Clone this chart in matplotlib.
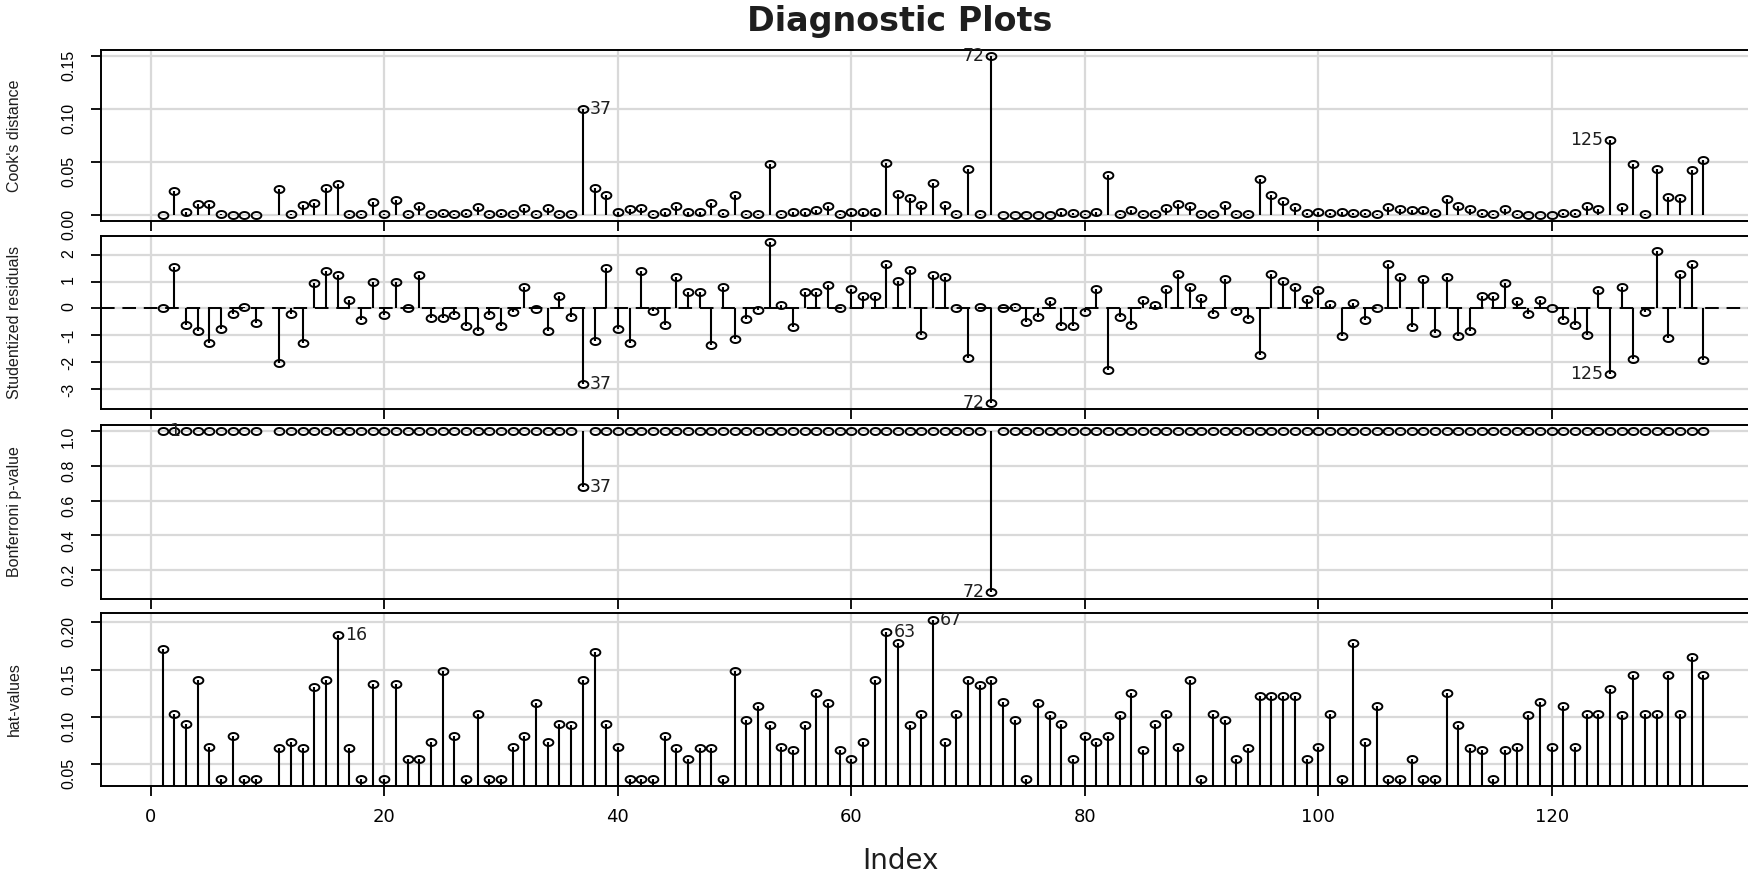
import numpy as np
import matplotlib
matplotlib.use("Agg")
import matplotlib.pyplot as plt
from matplotlib.path import Path

# ---------------- data ----------------
obs_index = list(range(1, 10)) + list(range(11, 134))

cooks_d = [0.000, 0.022, 0.003, 0.010, 0.010, 0.001, 0.000, 0.000, 0.000,
           0.024, 0.001, 0.009, 0.011, 0.025, 0.029, 0.001, 0.001, 0.012, 0.001,
           0.014, 0.001, 0.008, 0.001, 0.002, 0.001, 0.002, 0.007, 0.001, 0.002,
           0.001, 0.006, 0.001, 0.006, 0.001, 0.001, 0.100, 0.025, 0.019, 0.003,
           0.005, 0.006, 0.001, 0.003, 0.008, 0.003, 0.003, 0.011, 0.002, 0.019,
           0.001, 0.001, 0.048, 0.001, 0.003, 0.003, 0.004, 0.008, 0.001, 0.003,
           0.003, 0.003, 0.049, 0.020, 0.016, 0.009, 0.030, 0.009, 0.001, 0.043,
           0.001, 0.150, 0.000, 0.000, 0.000, 0.000, 0.000, 0.003, 0.002, 0.001,
           0.003, 0.038, 0.001, 0.004, 0.001, 0.001, 0.006, 0.010, 0.008, 0.001,
           0.001, 0.009, 0.001, 0.001, 0.034, 0.019, 0.013, 0.007, 0.002, 0.003,
           0.002, 0.003, 0.002, 0.002, 0.001, 0.007, 0.005, 0.004, 0.004, 0.002,
           0.015, 0.008, 0.005, 0.002, 0.001, 0.005, 0.001, 0.000, 0.000, 0.000,
           0.002, 0.002, 0.008, 0.005, 0.071, 0.007, 0.048, 0.001, 0.043, 0.017,
           0.016, 0.042, 0.052]

stud_resid = [0.02, 1.55, -0.62, -0.86, -1.29, -0.76, -0.20, 0.06, -0.56,
              -2.04, -0.20, -1.29, 0.93, 1.38, 1.24, 0.30, -0.45, 0.99, -0.25,
              0.99, 0.00, 1.24, -0.36, -0.36, -0.26, -0.66, -0.86, -0.26, -0.66,
              -0.14, 0.81, -0.04, -0.86, 0.46, -0.31, -2.81, -1.22, 1.49, -0.76,
              -1.29, 1.39, -0.10, -0.60, 1.18, 0.61, 0.61, -1.38, 0.81, -1.13,
              -0.39, -0.06, 2.46, 0.11, -0.70, 0.61, 0.61, 0.88, 0.00, 0.71,
              0.46, 0.46, 1.64, 1.03, 1.44, -0.98, 1.24, 1.18, 0.00, -1.84,
              0.05, -3.51, 0.00, 0.05, -0.51, -0.31, 0.28, -0.66, -0.66, -0.12,
              0.71, -2.29, -0.31, -0.61, 0.31, 0.11, 0.71, 1.29, 0.78, 0.40,
              -0.22, 1.09, -0.10, -0.39, -1.72, 1.28, 1.03, 0.78, 0.36, 0.68,
              0.15, -1.01, 0.19, -0.45, 0.00, 1.65, 1.18, -0.70, 1.09, -0.91,
              1.18, -1.01, -0.85, 0.46, 0.46, 0.93, 0.28, -0.22, 0.31, 0.00,
              -0.45, -0.60, -0.98, 0.68, -2.44, 0.81, -1.88, -0.14, 2.15, -1.10,
              1.28, 1.65, -1.94]

bonf_p = [1.0, 1.0, 1.0, 1.0, 1.0, 1.0, 1.0, 1.0, 1.0,
          1.0, 1.0, 1.0, 1.0, 1.0, 1.0, 1.0, 1.0, 1.0, 1.0,
          1.0, 1.0, 1.0, 1.0, 1.0, 1.0, 1.0, 1.0, 1.0, 1.0,
          1.0, 1.0, 1.0, 1.0, 1.0, 1.0, 0.68, 1.0, 1.0, 1.0,
          1.0, 1.0, 1.0, 1.0, 1.0, 1.0, 1.0, 1.0, 1.0, 1.0,
          1.0, 1.0, 1.0, 1.0, 1.0, 1.0, 1.0, 1.0, 1.0, 1.0,
          1.0, 1.0, 1.0, 1.0, 1.0, 1.0, 1.0, 1.0, 1.0, 1.0,
          1.0, 0.075, 1.0, 1.0, 1.0, 1.0, 1.0, 1.0, 1.0, 1.0,
          1.0, 1.0, 1.0, 1.0, 1.0, 1.0, 1.0, 1.0, 1.0, 1.0,
          1.0, 1.0, 1.0, 1.0, 1.0, 1.0, 1.0, 1.0, 1.0, 1.0,
          1.0, 1.0, 1.0, 1.0, 1.0, 1.0, 1.0, 1.0, 1.0, 1.0,
          1.0, 1.0, 1.0, 1.0, 1.0, 1.0, 1.0, 1.0, 1.0, 1.0,
          1.0, 1.0, 1.0, 1.0, 1.0, 1.0, 1.0, 1.0, 1.0, 1.0,
          1.0, 1.0, 1.0]

hat_values = [0.172, 0.103, 0.093, 0.139, 0.068, 0.034, 0.080, 0.034, 0.034,
              0.067, 0.074, 0.067, 0.132, 0.139, 0.187, 0.067, 0.034, 0.135, 0.034,
              0.135, 0.056, 0.056, 0.074, 0.149, 0.080, 0.034, 0.103, 0.034, 0.034,
              0.068, 0.080, 0.115, 0.074, 0.093, 0.091, 0.139, 0.169, 0.093, 0.068,
              0.034, 0.034, 0.034, 0.080, 0.067, 0.056, 0.067, 0.067, 0.034, 0.149,
              0.097, 0.112, 0.091, 0.068, 0.065, 0.091, 0.125, 0.115, 0.065, 0.056,
              0.074, 0.139, 0.190, 0.178, 0.091, 0.103, 0.203, 0.074, 0.103, 0.139,
              0.134, 0.139, 0.116, 0.097, 0.034, 0.115, 0.102, 0.093, 0.056, 0.080,
              0.074, 0.080, 0.102, 0.125, 0.065, 0.093, 0.103, 0.068, 0.139, 0.034,
              0.103, 0.097, 0.056, 0.067, 0.122, 0.122, 0.122, 0.122, 0.056, 0.068,
              0.103, 0.034, 0.178, 0.074, 0.112, 0.034, 0.034, 0.056, 0.034, 0.034,
              0.125, 0.091, 0.067, 0.065, 0.034, 0.065, 0.068, 0.102, 0.116, 0.068,
              0.112, 0.068, 0.103, 0.103, 0.130, 0.102, 0.144, 0.103, 0.103, 0.144,
              0.103, 0.163, 0.144]

panel_titles = ["Cook's distance", "Studentized residuals", "Bonferroni p-value", "hat-values"]
x_ticks = [0, 20, 40, 60, 80, 100, 120]
cook_ticks = [0.00, 0.05, 0.10, 0.15]
cook_ticklabels = ["0.00", "0.05", "0.10", "0.15"]
stud_ticks = [-3, -2, -1, 0, 1, 2]
stud_ticklabels = ["-3", "-2", "-1", "0", "1", "2"]
bonf_ticks = [0.2, 0.4, 0.6, 0.8, 1.0]
bonf_ticklabels = ["0.2", "0.4", "0.6", "0.8", "1.0"]
hat_ticks = [0.05, 0.10, 0.15, 0.20]
hat_ticklabels = ["0.05", "0.10", "0.15", "0.20"]

# labelled points: (index, side)
cook_labels = [(37, "right"), (72, "left"), (125, "left")]
stud_labels = [(37, "right"), (72, "left"), (125, "left")]
bonf_labels = [(37, "right"), (72, "left"), (1, "right")]
hat_labels = [(16, "right"), (63, "right"), (67, "right")]

# ---------------- style ----------------
W, H = 1749, 876
fig = plt.figure(figsize=(W / 100, H / 100), dpi=100)

theta = np.linspace(0, 2 * np.pi, 60)
ell_marker = Path(np.column_stack([np.cos(theta), 0.72 * np.sin(theta)]), closed=True)

grid_col = "#d9d9d9"
txt_col = "#1e1e1e"
rot_font = ["Liberation Sans", "DejaVu Sans"]
hor_font = ["DejaVu Sans"]

xlim = (-4.28, 138.28)
ax_left = 101 / W
ax_width = (1765 - 101) / W
panel_px = [(50, 221), (236, 409), (425, 599), (613, 786)]


def make_ax(top, bottom):
    ax = fig.add_axes([ax_left, 1 - bottom / H, ax_width, (bottom - top) / H])
    ax.set_xlim(*xlim)
    for s in ["left", "top", "bottom"]:
        ax.spines[s].set_linewidth(1.4)
        ax.spines[s].set_color("black")
    ax.spines["right"].set_visible(False)
    ax.set_xticks(x_ticks)
    ax.tick_params(axis="both", direction="out", length=7, width=1.3, color="black")
    ax.tick_params(axis="x", labelbottom=False)
    ax.tick_params(axis="y", labelrotation=90, pad=11, labelsize=11.5)
    ax.grid(True, color=grid_col, linewidth=1.6, zorder=0)
    ax.set_axisbelow(True)
    return ax


def draw_points(ax, x, y):
    ax.plot(x, y, linestyle="none", marker=ell_marker, markersize=7,
            markerfacecolor="none", markeredgecolor="black", markeredgewidth=1.4,
            zorder=4, clip_on=False)


def add_labels(ax, x, y, labels, dy=0):
    for idx, side in labels:
        k = x.index(idx)
        off = 5 if side == "right" else -5
        ax.annotate(str(idx), (x[k], y[k]), xytext=(off, dy), textcoords="offset points",
                    ha="left" if side == "right" else "right", va="center",
                    fontsize=12.5, color=txt_col, family=hor_font, zorder=6,
                    annotation_clip=False)


x = obs_index
stem_lw = 1.5

# Cook's distance
ax1 = make_ax(*panel_px[0])
ax1.vlines(x, 0, cooks_d, color="black", linewidth=stem_lw, zorder=3)
draw_points(ax1, x, cooks_d)
ax1.set_ylim(-0.006, 0.156)
ax1.set_yticks(cook_ticks)
ax1.set_yticklabels(cook_ticklabels, family=rot_font)
add_labels(ax1, x, cooks_d, cook_labels)

# Studentized residuals
ax2 = make_ax(*panel_px[1])
ax2.axhline(0, color="black", linewidth=1.4, linestyle=(0, (7, 4)), zorder=2)
ax2.vlines(x, 0, stud_resid, color="black", linewidth=stem_lw, zorder=3)
draw_points(ax2, x, stud_resid)
ax2.set_ylim(-3.75, 2.70)
ax2.set_yticks(stud_ticks)
ax2.set_yticklabels(stud_ticklabels, family=rot_font)
add_labels(ax2, x, stud_resid, stud_labels)

# Bonferroni p-value
ax3 = make_ax(*panel_px[2])
ax3.vlines(x, 1.0, bonf_p, color="black", linewidth=stem_lw, zorder=3)
draw_points(ax3, x, bonf_p)
ax3.set_ylim(0.033, 1.037)
ax3.set_yticks(bonf_ticks)
ax3.set_yticklabels(bonf_ticklabels, family=rot_font)
add_labels(ax3, x, bonf_p, bonf_labels)

# hat-values
ax4 = make_ax(*panel_px[3])
ax4.vlines(x, 0, hat_values, color="black", linewidth=stem_lw, zorder=3)
draw_points(ax4, x, hat_values)
ax4.set_ylim(0.027, 0.210)
ax4.set_yticks(hat_ticks)
ax4.set_yticklabels(hat_ticklabels, family=rot_font)
add_labels(ax4, x, hat_values, hat_labels)
ax4.tick_params(axis="x", labelbottom=True, labelsize=13, pad=9)
for lab in ax4.get_xticklabels():
    lab.set_family(hor_font)

for ax, t in zip([ax1, ax2, ax3, ax4], panel_titles):
    ax.set_ylabel(t, fontsize=11.5, family=rot_font, color=txt_col)
    ax.yaxis.set_label_coords((22 - 101) / (1765 - 101), 0.5)

fig.text(900 / W, 1 - 21 / H, "Diagnostic Plots", ha="center", va="center",
         fontsize=24, fontweight="bold", family=hor_font, color=txt_col)
fig.text(900 / W, 1 - 861 / H, "Index", ha="center", va="center",
         fontsize=20, family=hor_font, color=txt_col)

fig.savefig("out.png", dpi=100)
